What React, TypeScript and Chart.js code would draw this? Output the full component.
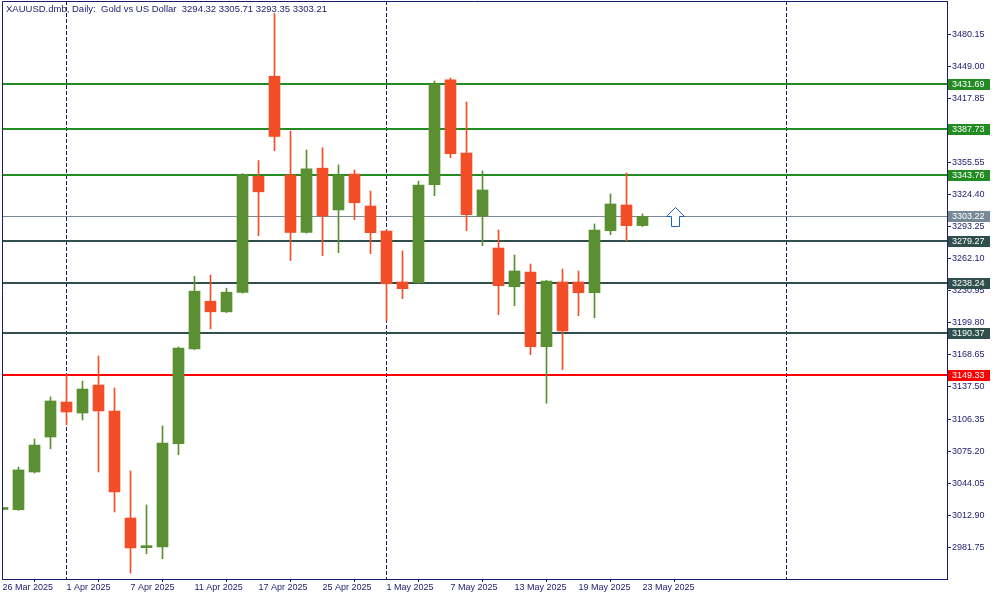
import React, { useEffect, useRef } from "react";
import { Chart, registerables } from "chart.js";

Chart.register(...registerables);

// ---- data ----
const dates = [
  "26 Mar 2025", "27 Mar 2025", "28 Mar 2025", "31 Mar 2025",
  "1 Apr 2025", "2 Apr 2025", "3 Apr 2025", "4 Apr 2025",
  "7 Apr 2025", "8 Apr 2025", "9 Apr 2025", "10 Apr 2025",
  "11 Apr 2025", "14 Apr 2025", "15 Apr 2025", "16 Apr 2025",
  "17 Apr 2025", "22 Apr 2025", "23 Apr 2025", "24 Apr 2025",
  "25 Apr 2025", "28 Apr 2025", "29 Apr 2025", "30 Apr 2025",
  "1 May 2025", "2 May 2025", "5 May 2025", "6 May 2025",
  "7 May 2025", "8 May 2025", "9 May 2025", "12 May 2025",
  "13 May 2025", "14 May 2025", "15 May 2025", "16 May 2025",
  "19 May 2025", "20 May 2025", "21 May 2025", "22 May 2025",
  "23 May 2025",
];

const opens = [
  3018.5, 3018.3, 3054.9, 3088.9, 3122.9, 3112.2, 3139.4, 3114.2,
  3010.2, 2981.4, 2982.0, 3082.4, 3174.5, 3220.8, 3210.5, 3229.3,
  3342.3, 3439.4, 3343.4, 3287.6, 3350.1, 3309.5, 3344.4, 3313.3,
  3289.0, 3239.5, 3238.8, 3334.0, 3435.8, 3364.8, 3303.3, 3272.5,
  3234.9, 3249.2, 3176.6, 3239.5, 3239.5, 3229.1, 3289.3, 3314.3,
  3294.32,
];
const highs = [
  3020.5, 3059.8, 3087.0, 3127.8, 3150.0, 3143.3, 3167.6, 3136.5,
  3055.9, 3022.9, 3099.6, 3176.4, 3245.1, 3246.2, 3233.5, 3344.8,
  3357.5, 3500.3, 3386.1, 3367.7, 3370.0, 3353.2, 3348.3, 3327.9,
  3290.5, 3269.6, 3337.6, 3434.8, 3437.7, 3414.4, 3347.4, 3290.0,
  3265.7, 3257.0, 3241.2, 3252.1, 3250.2, 3295.9, 3325.0, 3345.4,
  3305.71,
];
const lows = [
  3018.0, 3017.5, 3053.9, 3077.5, 3100.6, 3105.4, 3054.9, 3016.1,
  2956.8, 2975.5, 2970.7, 3071.7, 3173.8, 3193.9, 3209.8, 3228.6,
  3284.4, 3367.1, 3260.4, 3286.9, 3265.1, 3268.0, 3300.0, 3267.0,
  3201.6, 3223.3, 3238.1, 3323.3, 3360.3, 3289.3, 3274.8, 3207.7,
  3216.5, 3168.9, 3121.7, 3154.3, 3206.8, 3204.8, 3285.5, 3279.6,
  3293.35,
];
const closes = [
  3020.3, 3056.9, 3081.1, 3123.9, 3113.2, 3135.5, 3114.2, 3035.5,
  2981.1, 2983.3, 3083.1, 3175.2, 3230.6, 3210.5, 3229.6, 3343.8,
  3327.1, 3380.9, 3287.6, 3349.4, 3303.6, 3343.5, 3316.5, 3287.4,
  3237.8, 3233.0, 3333.7, 3431.9, 3364.2, 3304.9, 3328.9, 3235.9,
  3250.2, 3176.6, 3240.5, 3191.9, 3229.1, 3290.0, 3315.3, 3294.2,
  3303.21,
];

const xTickIndices = [0, 4, 8, 12, 16, 20, 24, 28, 32, 36, 40];
const yTickValues = [
  2981.75, 3012.9, 3044.05, 3075.2, 3106.35, 3137.5, 3168.65, 3199.8,
  3230.95, 3262.1, 3293.25, 3324.4, 3355.55, 3386.7, 3417.85, 3449.0,
  3480.15,
];

const levelValues = [3431.69, 3387.73, 3343.76, 3303.22, 3279.27, 3238.24, 3190.37, 3149.33];
const monthSeparatorIndices = [4, 24, 49];
const arrowIndex = 42;
const arrowPrice = 3303.22;
const symbolTitle = "XAUUSD.dmb, Daily:  Gold vs US Dollar";

// ---- styles ----
const levelColors = ["#228b22", "#228b22", "#228b22", "#778899", "#2f4f4f", "#2f4f4f", "#2f4f4f", "#ff0000"];
const levelWidths = [2, 2, 2, 1, 2, 2, 2, 2];
const NAVY = "#1b1b6e";
const UP = "#5b9032";
const DOWN = "#f24e28";
const FONT_FAMILY = '"Liberation Sans", Arial, sans-serif';
const FONT = "9px " + FONT_FAMILY;
const TITLE_FONT = "9.5px " + FONT_FAMILY;

const Y_MIN = 2950.95;
const Y_MAX = 3512.5;
const X_MIN = -0.03125;
const X_MAX = 59.03125;

const overlayPlugin = {
  id: "overlay",
  beforeDatasetsDraw(chart: any) {
    const { ctx, chartArea: a, scales } = chart;
    const x = scales.x;
    const y = scales.y;
    ctx.save();
    // month separators
    ctx.strokeStyle = NAVY;
    ctx.lineWidth = 1;
    ctx.setLineDash([4, 2]);
    monthSeparatorIndices.forEach((i) => {
      const px = Math.floor(x.getPixelForValue(i)) + 0.5;
      ctx.beginPath();
      ctx.moveTo(px, a.top);
      ctx.lineTo(px, a.bottom);
      ctx.stroke();
    });
    ctx.setLineDash([]);
    // horizontal levels
    levelValues.forEach((v, k) => {
      const py = Math.round(y.getPixelForValue(v));
      const w = levelWidths[k];
      ctx.fillStyle = levelColors[k];
      ctx.fillRect(a.left, w === 2 ? py - 1 : py, a.right - a.left, w);
    });
    ctx.restore();
  },
  afterDraw(chart: any) {
    const { ctx, chartArea: a, scales } = chart;
    const x = scales.x;
    const y = scales.y;
    ctx.save();
    // frame (left & top)
    ctx.strokeStyle = NAVY;
    ctx.lineWidth = 1;
    ctx.beginPath();
    ctx.moveTo(a.left + 0.5, a.bottom);
    ctx.lineTo(a.left + 0.5, a.top + 0.5);
    ctx.lineTo(a.right, a.top + 0.5);
    ctx.stroke();

    // price labels on the right axis
    ctx.font = FONT;
    ctx.textBaseline = "middle";
    ctx.textAlign = "left";
    levelValues.forEach((v, k) => {
      const py = Math.round(y.getPixelForValue(v));
      ctx.fillStyle = levelColors[k];
      ctx.fillRect(a.right + 1, py - 5, 42, 11);
      ctx.fillStyle = "#ffffff";
      ctx.fillText(v.toFixed(2), a.right + 5, py + 0.5);
    });

    // title
    const last = opens.length - 1;
    ctx.font = TITLE_FONT;
    ctx.fillStyle = NAVY;
    ctx.fillText(
      symbolTitle + "  " + [opens[last], highs[last], lows[last], closes[last]].map((n) => n.toFixed(2)).join(" "),
      a.left + 4,
      9
    );

    // buy arrow
    const ax = Math.round(x.getPixelForValue(arrowIndex)) + 0.5;
    const ay = Math.round(y.getPixelForValue(arrowPrice)) + 0.5;
    ctx.beginPath();
    ctx.moveTo(ax, ay - 9);
    ctx.lineTo(ax + 9, ay);
    ctx.lineTo(ax + 4, ay);
    ctx.lineTo(ax + 4, ay + 10);
    ctx.lineTo(ax - 4, ay + 10);
    ctx.lineTo(ax - 4, ay);
    ctx.lineTo(ax - 9, ay);
    ctx.closePath();
    ctx.fillStyle = "#ffffff";
    ctx.fill();
    ctx.strokeStyle = "#1f5fc0";
    ctx.lineWidth = 1;
    ctx.stroke();
    ctx.restore();
  },
};

export default function App() {
  const canvasRef = useRef<HTMLCanvasElement | null>(null);

  useEffect(() => {
    const canvas = canvasRef.current;
    if (!canvas) return;
    const colors = opens.map((o, i) => (closes[i] >= o ? UP : DOWN));
    const wickData = opens.map((_, i) => ({ x: i, y: [lows[i], highs[i]] }));
    const bodyData = opens.map((o, i) => ({ x: i, y: [o, closes[i]] }));

    const chart = new Chart(canvas, {
      type: "bar",
      data: {
        datasets: [
          {
            label: "wick",
            data: wickData as any,
            backgroundColor: colors,
            barThickness: 1,
            grouped: false,
            borderWidth: 0,
            minBarLength: 1,
          },
          {
            label: "body",
            data: bodyData as any,
            backgroundColor: colors,
            barThickness: 11,
            grouped: false,
            borderWidth: 0,
            minBarLength: 2,
          },
        ],
      },
      options: {
        animation: false,
        responsive: false,
        devicePixelRatio: 1,
        layout: { padding: { left: 2, top: 1, right: 0, bottom: 0 } },
        plugins: { legend: { display: false }, tooltip: { enabled: false }, title: { display: false } },
        scales: {
          x: {
            type: "linear",
            offset: false,
            min: X_MIN,
            max: X_MAX,
            afterBuildTicks: (scale: any) => {
              scale.ticks = xTickIndices.map((v) => ({ value: v }));
            },
            afterFit: (scale: any) => {
              scale.height = 21;
              scale.paddingLeft = 0;
              scale.paddingRight = 0;
            },
            grid: { drawOnChartArea: false, drawTicks: true, tickLength: 3, color: NAVY },
            border: { display: true, color: NAVY, width: 1 },
            ticks: {
              autoSkip: false,
              maxRotation: 0,
              minRotation: 0,
              align: "start",
              padding: 0,
              color: NAVY,
              font: { family: FONT_FAMILY, size: 9 },
              callback: (v: any) => dates[Math.round(Number(v))] ?? "",
            },
          },
          y: {
            type: "linear",
            position: "right",
            min: Y_MIN,
            max: Y_MAX,
            afterBuildTicks: (scale: any) => {
              scale.ticks = yTickValues.map((v) => ({ value: v }));
            },
            afterFit: (scale: any) => {
              scale.width = 53;
              scale.paddingTop = 0;
              scale.paddingBottom = 0;
            },
            grid: { drawOnChartArea: false, drawTicks: true, tickLength: 4, color: NAVY },
            border: { display: true, color: NAVY, width: 1 },
            ticks: {
              padding: 1,
              color: NAVY,
              font: { family: FONT_FAMILY, size: 9 },
              callback: (v: any) => Number(v).toFixed(2),
            },
          },
        },
      } as any,
      plugins: [overlayPlugin],
    });
    return () => chart.destroy();
  }, []);

  return (
    <div style={{ position: "fixed", left: 0, top: 0, width: 1000, height: 600, background: "#ffffff" }}>
      <canvas ref={canvasRef} width={1000} height={600} style={{ display: "block" }} />
    </div>
  );
}
